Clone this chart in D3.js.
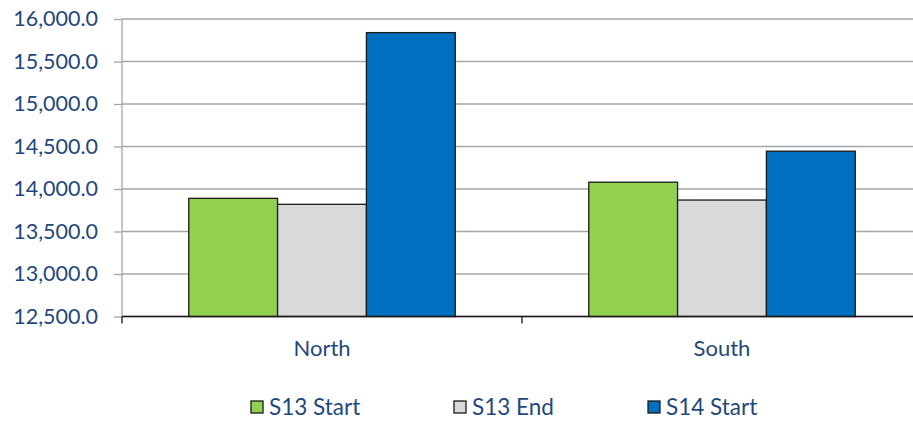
<!DOCTYPE html>
<html>
<head>
<meta charset="utf-8">
<script src="https://cdn.jsdelivr.net/npm/d3@7"></script>
<style>
  html, body { margin: 0; padding: 0; background: #fff; }
  svg { display: block; }
  text { font-family: Lato, "Open Sans", sans-serif; fill: #1F497D; }
</style>
</head>
<body>
<svg id="chart" width="913" height="421"></svg>
<script>
// Regions and series
const regions = ["North", "South"];
const seriesNames = ["S13 Start", "S13 End", "S14 Start"];
const seriesColors = ["#92D050", "#D9D9D9", "#0070C0"];
const s13Start = [13890, 14080];
const s13End = [13820, 13870];
const s14Start = [15840, 14445];
const yTicks = [12500, 13000, 13500, 14000, 14500, 15000, 15500, 16000];

const seriesValues = [s13Start, s13End, s14Start];

const svg = d3.select("#chart");
const plotLeft = 122, plotRight = 922, plotTop = 19, plotBottom = 316.5;

const x0 = d3.scaleBand().domain(regions).range([plotLeft, plotRight]).paddingInner(0).paddingOuter(0);
const groupPad = 0.5 * 133.5 / 400; // gap width of 150% of a bar
const x1 = d3.scaleBand().domain(seriesNames)
  .range([x0.bandwidth() * groupPad, x0.bandwidth() * (1 - groupPad)]);
const y = d3.scaleLinear().domain([12500, 16000]).range([plotBottom, plotTop]);

// Horizontal gridlines
svg.append("g")
  .selectAll("line")
  .data(yTicks)
  .join("line")
  .attr("x1", plotLeft).attr("x2", 913)
  .attr("y1", d => y(d)).attr("y2", d => y(d))
  .attr("stroke", "#A6A6A6").attr("stroke-width", 1.3);

// Y axis
const yAxis = d3.axisLeft(y).tickValues(yTicks)
  .tickFormat(d3.format(",.1f")).tickSize(8).tickPadding(16);
const gy = svg.append("g").attr("transform", `translate(${plotLeft},0)`).call(yAxis);
gy.select(".domain").attr("stroke", "#A6A6A6").attr("stroke-width", 1.3)
  .attr("d", `M0,${plotTop}V${plotBottom}`);
gy.selectAll(".tick line").attr("stroke", "#A6A6A6").attr("stroke-width", 1.3);
gy.selectAll(".tick text").style("font-size", "21.5px").attr("fill", "#1F497D")
  .style("font-family", "Lato, sans-serif");

// Bars
const groups = svg.append("g").selectAll("g")
  .data(regions)
  .join("g")
  .attr("transform", d => `translate(${x0(d)},0)`);

groups.selectAll("rect")
  .data((d, i) => seriesNames.map((s, k) => ({ s, v: seriesValues[k][i], k })))
  .join("rect")
  .attr("x", d => x1(d.s))
  .attr("y", d => y(d.v))
  .attr("width", x1.bandwidth())
  .attr("height", d => plotBottom - y(d.v))
  .attr("fill", d => seriesColors[d.k])
  .attr("stroke", "#1a1a1a").attr("stroke-width", 1.3);

// X axis
const xAxis = d3.axisBottom(x0).tickSize(0).tickPadding(24);
const gx = svg.append("g").attr("transform", `translate(0,${plotBottom})`).call(xAxis);
gx.select(".domain").attr("stroke", "#1a1a1a").attr("stroke-width", 1.3)
  .attr("d", `M${plotLeft},0H913`);
gx.selectAll(".tick text").style("font-size", "22px").attr("fill", "#1F497D")
  .style("font-family", "Lato, sans-serif");
// category boundary ticks
svg.append("g").selectAll("line")
  .data([plotLeft, x0("South")])
  .join("line")
  .attr("x1", d => d).attr("x2", d => d)
  .attr("y1", plotBottom).attr("y2", plotBottom + 7)
  .attr("stroke", "#1a1a1a").attr("stroke-width", 1.3);

// Legend
const legendX = [251, 454, 648];
const legend = svg.append("g").selectAll("g")
  .data(seriesNames)
  .join("g")
  .attr("transform", (d, i) => `translate(${legendX[i]},401)`);
legend.append("rect")
  .attr("width", 12).attr("height", 12)
  .attr("fill", (d, i) => seriesColors[i])
  .attr("stroke", "#1a1a1a").attr("stroke-width", 1.3);
legend.append("text")
  .attr("x", 18).attr("y", 14)
  .style("font-size", "22.5px")
  .text(d => d);
</script>
</body>
</html>
